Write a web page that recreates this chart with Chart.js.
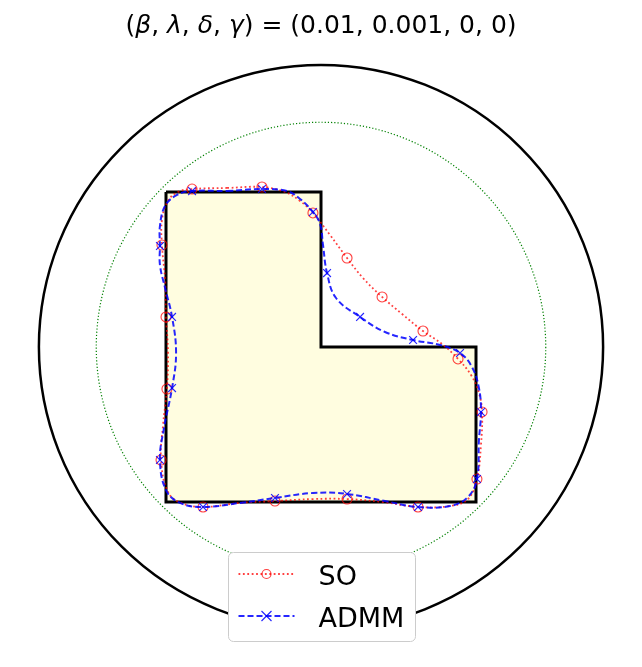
<!DOCTYPE html>
<html>
<head>
<meta charset="utf-8">
<title>SO vs ADMM</title>
<script src="https://cdn.jsdelivr.net/npm/chart.js@4.4.1/dist/chart.umd.min.js"></script>
<style>
  html, body { margin:0; padding:0; background:#fff; }
  #wrap { width:642px; height:667px; }
</style>
</head>
<body>
<div id="wrap"><canvas id="shape-chart" width="642" height="667"></canvas></div>
<script>
// target L-shaped domain (closed polygon)
const L_X = [-1, 0, 0, 1,  1, -1, -1];
const L_Y = [ 1, 1, 0, 0, -1, -1,  1];

const OUTER_R = 1.82;   // outer circle
const GUIDE_R = 1.45;   // dotted guide circle

// SO reconstruction, clockwise from the top edge (last point closes the loop)
const SO_X = [-0.606, -0.381, -0.232, -0.135, -0.052, 0.058, 0.168, 0.271, 0.394, 0.523,
              0.658, 0.781, 0.884, 0.968, 1.019, 1.039, 1.032, 1.006, 0.948, 0.832,
              0.626, 0.394, 0.168, -0.052, -0.297, -0.523, -0.761, -0.903, -0.987, -1.032,
              -1.019, -0.994, -0.987, -1.000, -1.006, -1.026, -1.026, -0.987, -0.923, -0.832,
              -0.606];
const SO_Y = [1.026, 1.032, 1.000, 0.942, 0.865, 0.723, 0.574, 0.445, 0.323, 0.213,
              0.103, 0.019, -0.077, -0.181, -0.297, -0.419, -0.632, -0.852, -0.981, -1.026,
              -1.032, -1.000, -0.981, -0.981, -0.994, -1.006, -1.032, -1.006, -0.935, -0.729,
              -0.503, -0.271, -0.032, 0.194, 0.432, 0.658, 0.819, 0.942, 1.000, 1.019,
              1.026];
const SO_MARKS = [1, 4, 6, 8, 10, 12, 15, 17, 20, 22, 24, 26, 29, 31, 33, 35, 39];

// ADMM reconstruction, same ordering
const ADMM_X = [-0.606, -0.381, -0.219, -0.135, -0.052, -0.006, 0.013, 0.039, 0.097, 0.252,
                0.413, 0.594, 0.768, 0.897, 0.974, 1.019, 1.032, 1.019, 1.006, 0.948,
                0.832, 0.626, 0.413, 0.168, -0.052, -0.297, -0.523, -0.761, -0.910, -1.000,
                -1.039, -1.013, -0.961, -0.935, -0.961, -1.006, -1.039, -1.039, -1.039, -1.006,
                -0.929, -0.832, -0.606];
const ADMM_Y = [1.006, 1.019, 1.006, 0.955, 0.871, 0.794, 0.658, 0.477, 0.316, 0.194,
                0.097, 0.045, 0.013, -0.039, -0.129, -0.265, -0.419, -0.600, -0.852, -0.968,
                -1.026, -1.032, -0.994, -0.948, -0.942, -0.974, -1.006, -1.032, -1.006, -0.923,
                -0.729, -0.523, -0.265, -0.039, 0.194, 0.381, 0.529, 0.652, 0.781, 0.910,
                0.981, 1.006, 1.006];
const ADMM_MARKS = [1, 4, 7, 9, 11, 13, 16, 18, 21, 23, 25, 27, 30, 32, 34, 37, 41];

const SERIES_LABELS = ['SO', 'ADMM'];
// title pieces: [text, italic]
const TITLE_PARTS = [['(', 0], ['β', 1], [', ', 0], ['λ', 1], [', ', 0], ['δ', 1], [', ', 0],
                     ['γ', 1], [') = (0.01, 0.001, 0, 0)', 0]];

const FONT = "'DejaVu Sans', sans-serif";
const toPts = (xs, ys) => xs.map((x, i) => ({ x: x, y: ys[i] }));

// circles are drawn in data units through the x/y scales
const ringsPlugin = {
  id: 'rings',
  beforeDatasetsDraw(chart) {
    const { ctx, scales: { x, y } } = chart;
    const cx = x.getPixelForValue(0), cy = y.getPixelForValue(0);
    ctx.save();
    ctx.strokeStyle = '#000';
    ctx.lineWidth = 2.5;
    ctx.beginPath();
    ctx.arc(cx, cy, x.getPixelForValue(OUTER_R) - cx, 0, Math.PI * 2);
    ctx.stroke();
    ctx.strokeStyle = '#008000';
    ctx.lineWidth = 1.2;
    ctx.setLineDash([1.2, 2]);
    ctx.beginPath();
    ctx.arc(cx, cy, x.getPixelForValue(GUIDE_R) - cx, 0, Math.PI * 2);
    ctx.stroke();
    ctx.restore();
  }
};

const titlePlugin = {
  id: 'mathTitle',
  afterDraw(chart) {
    const ctx = chart.ctx;
    ctx.save();
    ctx.fillStyle = '#000';
    ctx.textBaseline = 'alphabetic';
    const fontOf = it => (it ? 'italic ' : '') + '25px ' + FONT;
    let total = 0;
    TITLE_PARTS.forEach(p => { ctx.font = fontOf(p[1]); total += ctx.measureText(p[0]).width; });
    let x = chart.width / 2 - total / 2;
    TITLE_PARTS.forEach(p => {
      ctx.font = fontOf(p[1]);
      ctx.fillText(p[0], x, 33);
      x += ctx.measureText(p[0]).width;
    });
    ctx.restore();
  }
};

// matplotlib-like legend box placed inside the axes, lower centre
const boxLegend = {
  id: 'boxLegend',
  afterDraw(chart) {
    const { ctx, chartArea } = chart;
    const w = 187, h = 89;
    const left = Math.round((chartArea.left + chartArea.right) / 2 - w / 2) + 0.5;
    const top = chartArea.bottom - 105 + 0.5;
    ctx.save();
    ctx.beginPath();
    ctx.roundRect(left, top, w, h, 5);
    ctx.fillStyle = '#ffffff';
    ctx.fill();
    ctx.strokeStyle = '#cccccc';
    ctx.lineWidth = 1;
    ctx.stroke();

    [1, 2].forEach((di, i) => {
      const ds = chart.data.datasets[di];
      const ly = top + 21.5 + i * 42;
      ctx.strokeStyle = ds.borderColor;
      ctx.lineWidth = ds.borderWidth;
      ctx.setLineDash(ds.borderDash);
      ctx.beginPath();
      ctx.moveTo(left + 10, ly);
      ctx.lineTo(left + 66, ly);
      ctx.stroke();
      ctx.setLineDash([]);
      ctx.lineWidth = 1.2;
      const mx = left + 38;
      ctx.beginPath();
      if (ds.pointStyle === 'circle') {
        ctx.arc(mx, ly, 4.5, 0, Math.PI * 2);
      } else {
        ctx.moveTo(mx - 5, ly - 5); ctx.lineTo(mx + 5, ly + 5);
        ctx.moveTo(mx - 5, ly + 5); ctx.lineTo(mx + 5, ly - 5);
      }
      ctx.stroke();
      ctx.fillStyle = '#000';
      ctx.font = '27px ' + FONT;
      ctx.textBaseline = 'alphabetic';
      ctx.fillText(ds.label, left + 90, ly + 11);
    });
    ctx.restore();
  }
};

new Chart(document.getElementById('shape-chart'), {
  type: 'scatter',
  data: {
    datasets: [
      {
        label: 'domain',
        data: toPts(L_X, L_Y),
        showLine: true,
        tension: 0,
        borderColor: '#000',
        borderWidth: 3,
        borderJoinStyle: 'miter',
        backgroundColor: '#fffde0',
        fill: 'shape',
        pointRadius: 0,
        order: 3
      },
      {
        label: SERIES_LABELS[0],
        data: toPts(SO_X, SO_Y),
        showLine: true,
        tension: 0.4,
        borderColor: 'rgba(255,0,0,0.75)',
        borderWidth: 1.8,
        borderDash: [1.8, 2.6],
        fill: false,
        pointStyle: 'circle',
        pointRadius: ctx => SO_MARKS.includes(ctx.dataIndex) ? 5 : 0,
        pointBorderWidth: 1.1,
        pointBorderColor: 'rgba(255,0,0,0.75)',
        pointBackgroundColor: 'rgba(0,0,0,0)',
        order: 2
      },
      {
        label: SERIES_LABELS[1],
        data: toPts(ADMM_X, ADMM_Y),
        showLine: true,
        tension: 0.4,
        borderColor: 'rgba(0,0,255,0.85)',
        borderWidth: 2,
        borderDash: [6, 3],
        fill: false,
        pointStyle: 'crossRot',
        pointRadius: ctx => ADMM_MARKS.includes(ctx.dataIndex) ? 5.5 : 0,
        pointBorderWidth: 1.2,
        pointBorderColor: 'rgba(0,0,255,0.85)',
        order: 1
      }
    ]
  },
  options: {
    responsive: false,
    animation: false,
    events: [],
    layout: { padding: { left: 11, right: 11, top: 37, bottom: 10 } },
    scales: {
      x: { type: 'linear', min: -2, max: 2, display: false },
      y: { type: 'linear', min: -2, max: 2, display: false }
    },
    plugins: {
      legend: { display: false },
      title: { display: false },
      tooltip: { enabled: false }
    }
  },
  plugins: [ringsPlugin, titlePlugin, boxLegend]
});
</script>
</body>
</html>
